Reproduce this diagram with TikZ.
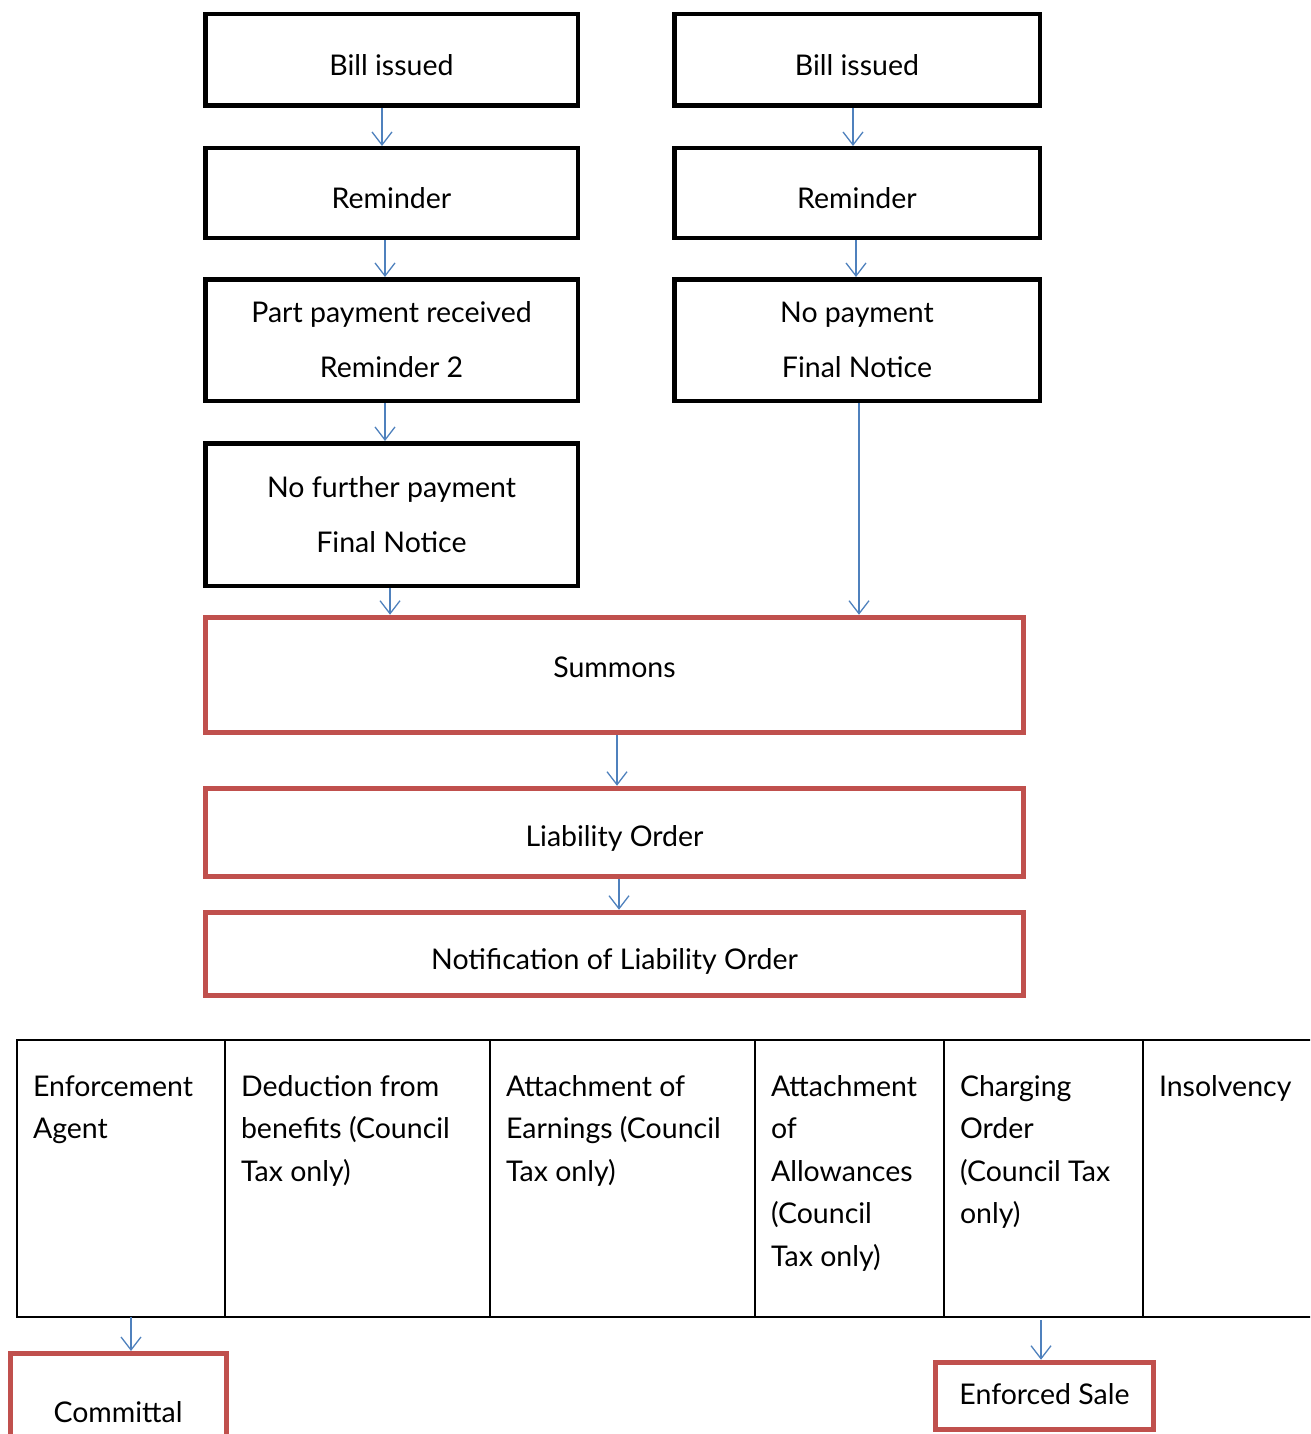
\documentclass[tikz,border=0pt]{standalone}
\usepackage{fontspec}
\setmainfont{Lato}
\usetikzlibrary{arrows.meta}
\definecolor{ablue}{HTML}{4F81BD}
\definecolor{ared}{HTML}{C0504D}
\newcommand\tcell[2]{\parbox[c][277pt][t]{#1}{\raggedright\leftskip=16pt\rule{0pt}{56pt}\ignorespaces#2}}
\begin{document}
\begin{tikzpicture}[x=1pt,y=-1pt,
  blackbox/.style={draw=black, line width=4.5pt, inner sep=0pt, align=center,
    font=\fontsize{28.5}{55}\selectfont},
  redbox/.style={draw=ared, line width=5pt, inner sep=0pt, align=center,
    font=\fontsize{28.5}{55}\selectfont},
  drop/.style={text height=#1, text depth=0pt},
  tablecell/.style={draw=black, line width=2pt, inner sep=0pt, outer sep=0pt,
    anchor=north west, font=\fontsize{28.5}{42.5}\selectfont},
  flow/.style={draw=ablue, line width=1.3pt, -{Straight Barb[length=13pt,width=20pt]}}
]
\useasboundingbox (0,0) rectangle (1310,1434);
\clip (0,0) rectangle (1310,1434);

% left column
\node[blackbox, drop=31pt, minimum width=372.5pt, minimum height=91.5pt] (bill1) at (391.5,60) {Bill issued};
\node[blackbox, drop=31pt, minimum width=372.5pt, minimum height=89.5pt] (rem1) at (391.5,193) {Reminder};
\node[blackbox, minimum width=372.5pt, minimum height=121.5pt] (part) at (391.5,340) {Part payment received\\Reminder 2};
\node[blackbox, minimum width=372.5pt, minimum height=142.5pt] (nofur) at (391.5,514.5) {No further payment\\Final Notice};

% right column
\node[blackbox, drop=31pt, minimum width=365.5pt, minimum height=91.5pt] (bill2) at (857,60) {Bill issued};
\node[blackbox, drop=31pt, minimum width=365.5pt, minimum height=89.5pt] (rem2) at (857,193) {Reminder};
\node[blackbox, minimum width=365.5pt, minimum height=121.5pt] (nopay) at (857,340) {No payment\\Final Notice};

% red boxes
\node[redbox, drop=4pt, minimum width=818.5pt, minimum height=115.5pt] (summons) at (614.5,675) {Summons};
\node[redbox, drop=27pt, minimum width=818.5pt, minimum height=88.5pt] (liab) at (614.5,832.5) {Liability Order};
\node[redbox, drop=30pt, minimum width=818.5pt, minimum height=83.5pt] (notif) at (614.5,954) {Notification of Liability Order};

% table
\node[tablecell] (cA) at (17,1040) {\tcell{208pt}{Enforcement\\Agent}};
\node[tablecell] (cB) at (225,1040) {\tcell{265pt}{Deduction from\\benefits (Council\\Tax only)}};
\node[tablecell] (cC) at (490,1040) {\tcell{265pt}{Attachment of\\Earnings (Council\\Tax only)}};
\node[tablecell] (cD) at (755,1040) {\tcell{189pt}{Attachment\\of\\Allowances\\(Council\\Tax only)}};
\node[tablecell] (cE) at (944,1040) {\tcell{199pt}{Charging\\Order\\(Council Tax\\only)}};
\node[tablecell] (cF) at (1143,1040) {\tcell{200pt}{Insolvency}};

% bottom boxes
\node[redbox, drop=22pt, minimum width=216pt, minimum height=115pt] (committal) at (118,1411) {Committal};
\node[redbox, drop=16pt, minimum width=218pt, minimum height=67.5pt] (sale) at (1044.5,1396) {Enforced Sale};

% connectors
\draw[flow] ([xshift=-9.5pt]bill1.south) -- ([xshift=-9.5pt]rem1.north);
\draw[flow] ([xshift=-6.5pt]rem1.south) -- ([xshift=-6.5pt]part.north);
\draw[flow] ([xshift=-6.5pt]part.south) -- ([xshift=-6.5pt]nofur.north);
\coordinate (s4) at ([xshift=-1.5pt]nofur.south);
\draw[flow] (s4) -- (s4 |- summons.north);

\draw[flow] ([xshift=-4pt]bill2.south) -- ([xshift=-4pt]rem2.north);
\draw[flow] ([xshift=-1pt]rem2.south) -- ([xshift=-1pt]nopay.north);
\coordinate (s7) at ([xshift=2pt]nopay.south);
\draw[flow] (s7) -- (s7 |- summons.north);

\draw[flow] ([xshift=2.5pt]summons.south) -- ([xshift=2.5pt]liab.north);
\draw[flow] ([xshift=4.5pt]liab.south) -- ([xshift=4.5pt]notif.north);

\coordinate (s10) at ([xshift=10pt]cA.south);
\draw[flow] (s10) -- (s10 |- committal.north);
\coordinate (s11) at ([xshift=-2.5pt,yshift=-3pt]cE.south);
\draw[flow] (s11) -- (s11 |- sale.north);
\end{tikzpicture}
\end{document}
